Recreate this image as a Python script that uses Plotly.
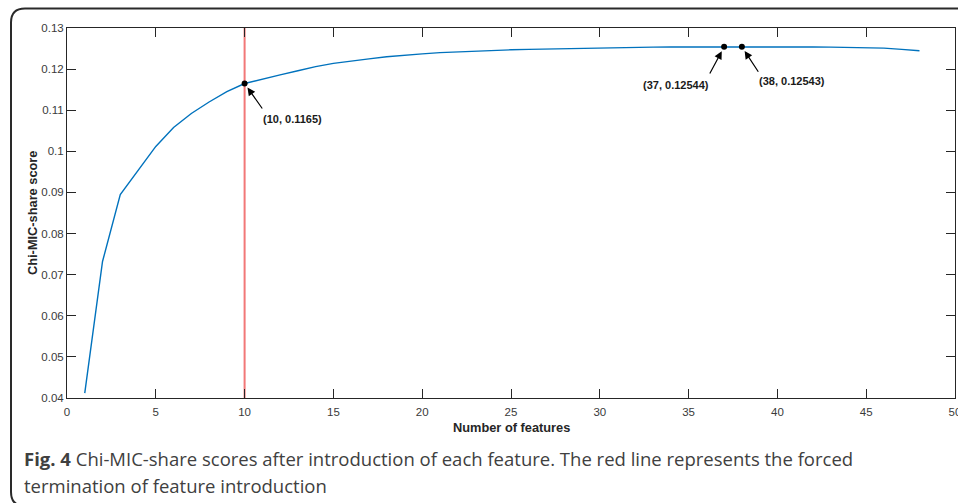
import plotly.graph_objects as go

# ---- data ----
n_features = list(range(1, 49))
scores = [
    0.0412, 0.0732, 0.0895, 0.0955, 0.1012, 0.1058, 0.1092, 0.1120, 0.1145, 0.1165,
    0.1176, 0.1186, 0.1196, 0.1206, 0.1214, 0.1220, 0.1225, 0.1230, 0.1234, 0.1237,
    0.1240, 0.1242, 0.1244, 0.1246, 0.1247, 0.1248, 0.1249, 0.12500, 0.12510, 0.12518,
    0.12524, 0.12530, 0.12535, 0.12539, 0.12541, 0.12543, 0.12544, 0.12543, 0.12542, 0.12541,
    0.12540, 0.12538, 0.12535, 0.12530, 0.12525, 0.12510, 0.12480, 0.12445,
]
marked_x = [10, 37, 38]
marked_y = [0.1165, 0.12544, 0.12543]
marked_labels = ["(10, 0.1165)", "(37, 0.12544)", "(38, 0.12543)"]
termination_x = 10

x_ticks = [0, 5, 10, 15, 20, 25, 30, 35, 40, 45, 50]
y_ticks = [0.04, 0.05, 0.06, 0.07, 0.08, 0.09, 0.10, 0.11, 0.12, 0.13]
y_tick_text = ["0.04", "0.05", "0.06", "0.07", "0.08", "0.09", "0.1", "0.11", "0.12", "0.13"]

caption_bold = "Fig. 4"
caption_line1 = " Chi-MIC-share scores after introduction of each feature. The red line represents the forced"
caption_line2 = "termination of feature introduction"

# ---- layout constants (pixels) ----
W, H = 958, 503
L, R, T, B = 67, 3, 28, 105
PW, PH = W - L - R, H - T - B

def px_x(p):
    return (p - L) / PW

def px_y(p):
    return (H - B - p) / PH

AX_FONT = "Liberation Sans, Arial, sans-serif"
TICK_COLOR = "#3a3a3a"

fig = go.Figure()

fig.add_trace(go.Scatter(
    x=n_features, y=scores, mode="lines",
    line=dict(color="#0072BD", width=1.4),
    hoverinfo="x+y", showlegend=False,
))

fig.add_shape(type="line", xref="x", yref="paper",
              x0=termination_x, x1=termination_x, y0=0, y1=1,
              line=dict(color="#f27878", width=2), layer="below")

fig.add_trace(go.Scatter(
    x=marked_x, y=marked_y, mode="markers",
    marker=dict(color="black", size=6),
    showlegend=False, hoverinfo="x+y",
))

# arrow tails / label offsets relative to each point (pixels)
arrow_tails = [(18.7, 26.5), (-15.1, 28.3), (17.4, 26.5)]
label_shifts = [(47.4, -35.3), (-48.3, -38.0), (49.8, -34.4)]

for xv, yv, lab, (ax, ay), (xs, ys) in zip(marked_x, marked_y, marked_labels, arrow_tails, label_shifts):
    fig.add_annotation(x=xv, y=yv, xref="x", yref="y", text="",
                       showarrow=True, ax=ax, ay=ay,
                       arrowhead=2, arrowsize=1.3, arrowwidth=1.2,
                       arrowcolor="black", standoff=5)
    fig.add_annotation(x=xv, y=yv, xref="x", yref="y", text="<b>%s</b>" % lab,
                       showarrow=False, xshift=xs, yshift=ys,
                       xanchor="center", yanchor="middle",
                       font=dict(family=AX_FONT, size=11, color="#1a1a1a"))

# axis titles
fig.add_annotation(x=0.5, y=px_y(427), xref="paper", yref="paper",
                   xanchor="center", yanchor="middle",
                   text="<b>Number of features</b>", showarrow=False,
                   font=dict(family=AX_FONT, size=12.8, color="#262626"))
fig.add_annotation(x=px_x(32), y=0.5, xref="paper", yref="paper",
                   xanchor="center", yanchor="middle",
                   text="<b>Chi-MIC-share score</b>", showarrow=False, textangle=-90,
                   font=dict(family=AX_FONT, size=12.8, color="#262626"))

# caption
CAP_FONT = "Open Sans, Noto Sans, sans-serif"
fig.add_annotation(x=px_x(22), y=px_y(458), xref="paper", yref="paper",
                   xanchor="left", yanchor="middle", showarrow=False,
                   text="<b>%s</b>%s" % (caption_bold, caption_line1),
                   font=dict(family=CAP_FONT, size=18.5, color="#404040"))
fig.add_annotation(x=px_x(22), y=px_y(485), xref="paper", yref="paper",
                   xanchor="left", yanchor="middle", showarrow=False,
                   text=caption_line2,
                   font=dict(family=CAP_FONT, size=18.5, color="#404040"))

# outer rounded frame
xl, yt, yb, xr = px_x(11), px_y(8.5), px_y(506), px_x(975)
rx, ry = 14 / PW, 14 / PH
path = (f"M {xr},{yt} L {xl+rx},{yt} Q {xl},{yt} {xl},{yt-ry} "
        f"L {xl},{yb+ry} Q {xl},{yb} {xl+rx},{yb} L {xr},{yb}")
fig.add_shape(type="path", xref="paper", yref="paper", path=path,
              line=dict(color="#2a2a2a", width=2))

axis_common = dict(
    showline=True, linecolor="#262626", linewidth=1, mirror="allticks",
    ticks="inside", ticklen=9, tickwidth=1, tickcolor="#262626",
    showgrid=False, zeroline=False, automargin=False,
    tickfont=dict(family=AX_FONT, size=11.5, color=TICK_COLOR),
)
fig.update_xaxes(range=[0, 50], tickvals=x_ticks, ticklabelstandoff=3,
                 ticklabeloverflow="allow", **axis_common)
fig.update_yaxes(range=[0.04, 0.13], tickvals=y_ticks, ticktext=y_tick_text, **axis_common)

fig.update_layout(
    width=W, height=H,
    margin=dict(l=L, r=R, t=T, b=B, pad=0, autoexpand=False),
    paper_bgcolor="white", plot_bgcolor="white",
    showlegend=False,
)

fig.write_html(
    "out.html",
    config={"displayModeBar": False},
    post_script="document.body.style.margin='0';document.body.style.overflow='hidden';",
)
